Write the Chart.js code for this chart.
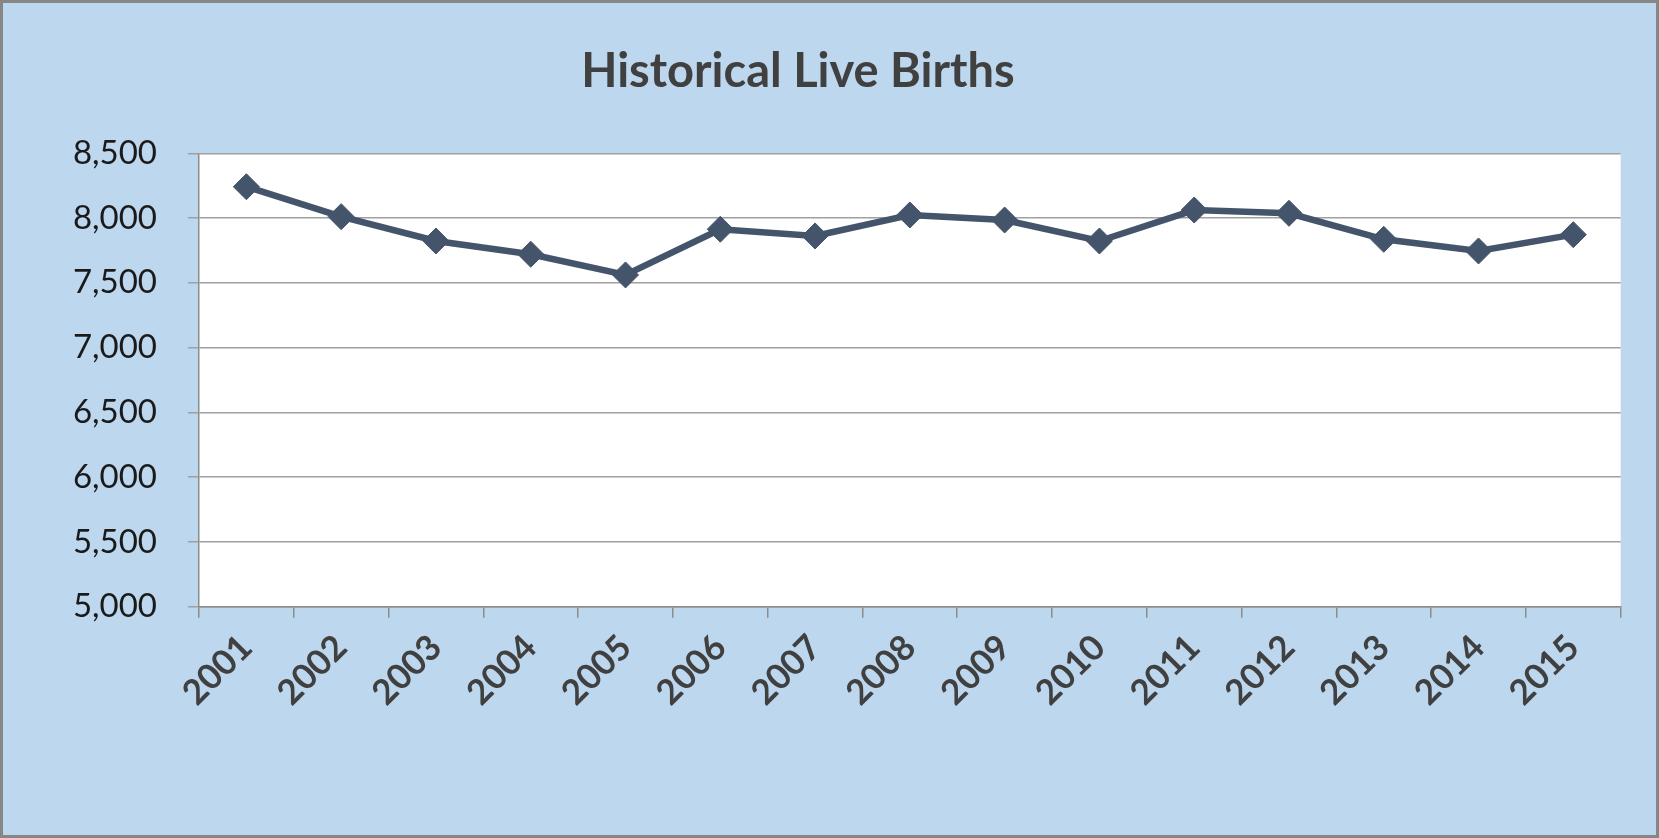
<!DOCTYPE html>
<html>
<head>
<meta charset="utf-8">
<script src="https://cdn.jsdelivr.net/npm/chart.js@4"></script>
<style>
  html, body { margin: 0; padding: 0; background: #BDD7EE; }
  #wrap { position: absolute; left: 0; top: 0; width: 1659px; height: 838px; box-sizing: border-box;
          border: 3px solid #868686; background: #BDD7EE; }
  canvas { display: block; }
</style>
</head>
<body>
<div id="wrap"><canvas id="c" width="1653" height="832"></canvas></div>
<script>
const chartTitle = 'Historical Live Births';
const years = ['2001','2002','2003','2004','2005','2006','2007','2008','2009','2010','2011','2012','2013','2014','2015'];
const liveBirths = [8242, 8011, 7823, 7721, 7561, 7914, 7862, 8024, 7985, 7823, 8062, 8037, 7836, 7746, 7872];
const yMin = 5000;
const yMax = 8500;
const yStep = 500;

const plotBg = {
  id: 'plotBg',
  beforeDraw(chart) {
    const {ctx, chartArea: a} = chart;
    ctx.save();
    ctx.fillStyle = '#FFFFFF';
    ctx.fillRect(a.left, a.top, a.right - a.left, a.bottom - a.top);
    ctx.restore();
  }
};
const titlePlugin = {
  id: 'customTitle',
  afterDraw(chart) {
    const ctx = chart.ctx;
    ctx.save();
    ctx.font = 'bold 47px Lato';
    ctx.fillStyle = '#404040';
    ctx.textAlign = 'center';
    ctx.textBaseline = 'alphabetic';
    ctx.fillText(chartTitle, 795, 84);
    ctx.restore();
  }
};

new Chart(document.getElementById('c'), {
  type: 'line',
  data: {
    labels: years,
    datasets: [{
      data: liveBirths,
      borderColor: '#44546A',
      backgroundColor: '#44546A',
      borderWidth: 6.5,
      tension: 0,
      pointStyle: 'rectRot',
      pointRadius: 13,
      pointBackgroundColor: '#44546A',
      pointBorderColor: '#44546A',
      pointBorderWidth: 1,
      clip: false
    }]
  },
  options: {
    responsive: false,
    devicePixelRatio: 1,
    animation: false,
    layout: { padding: { top: 150.3, left: 0, right: 35.3, bottom: 0 } },
    plugins: { legend: { display: false }, title: { display: false }, tooltip: { enabled: false } },
    scales: {
      x: {
        type: 'category',
        offset: true,
        afterFit(scale) { scale.height = 228.3; },
        grid: { offset: true, drawOnChartArea: false, drawTicks: true, tickLength: 11, color: '#8C8C8C', lineWidth: 1.5 },
        border: { display: true, color: '#8C8C8C', width: 1.5 },
        ticks: {
          autoSkip: false,
          minRotation: 45, maxRotation: 45,
          padding: 9,
          color: '#404040',
          font: { family: 'Lato', size: 35, weight: 'bold' }
        }
      },
      y: {
        min: yMin, max: yMax,
        afterFit(scale) { scale.width = 196; },
        grid: { drawTicks: true, tickLength: 11, color: '#A0A0A0', lineWidth: 1.5 },
        border: { display: true, color: '#8C8C8C', width: 1.5 },
        ticks: {
          stepSize: yStep,
          padding: 31,
          color: '#1A1A1A',
          font: { family: 'Lato', size: 33 },
          callback: v => Number(v).toLocaleString('en-US')
        }
      }
    }
  },
  plugins: [plotBg, titlePlugin]
});
</script>
</body>
</html>
